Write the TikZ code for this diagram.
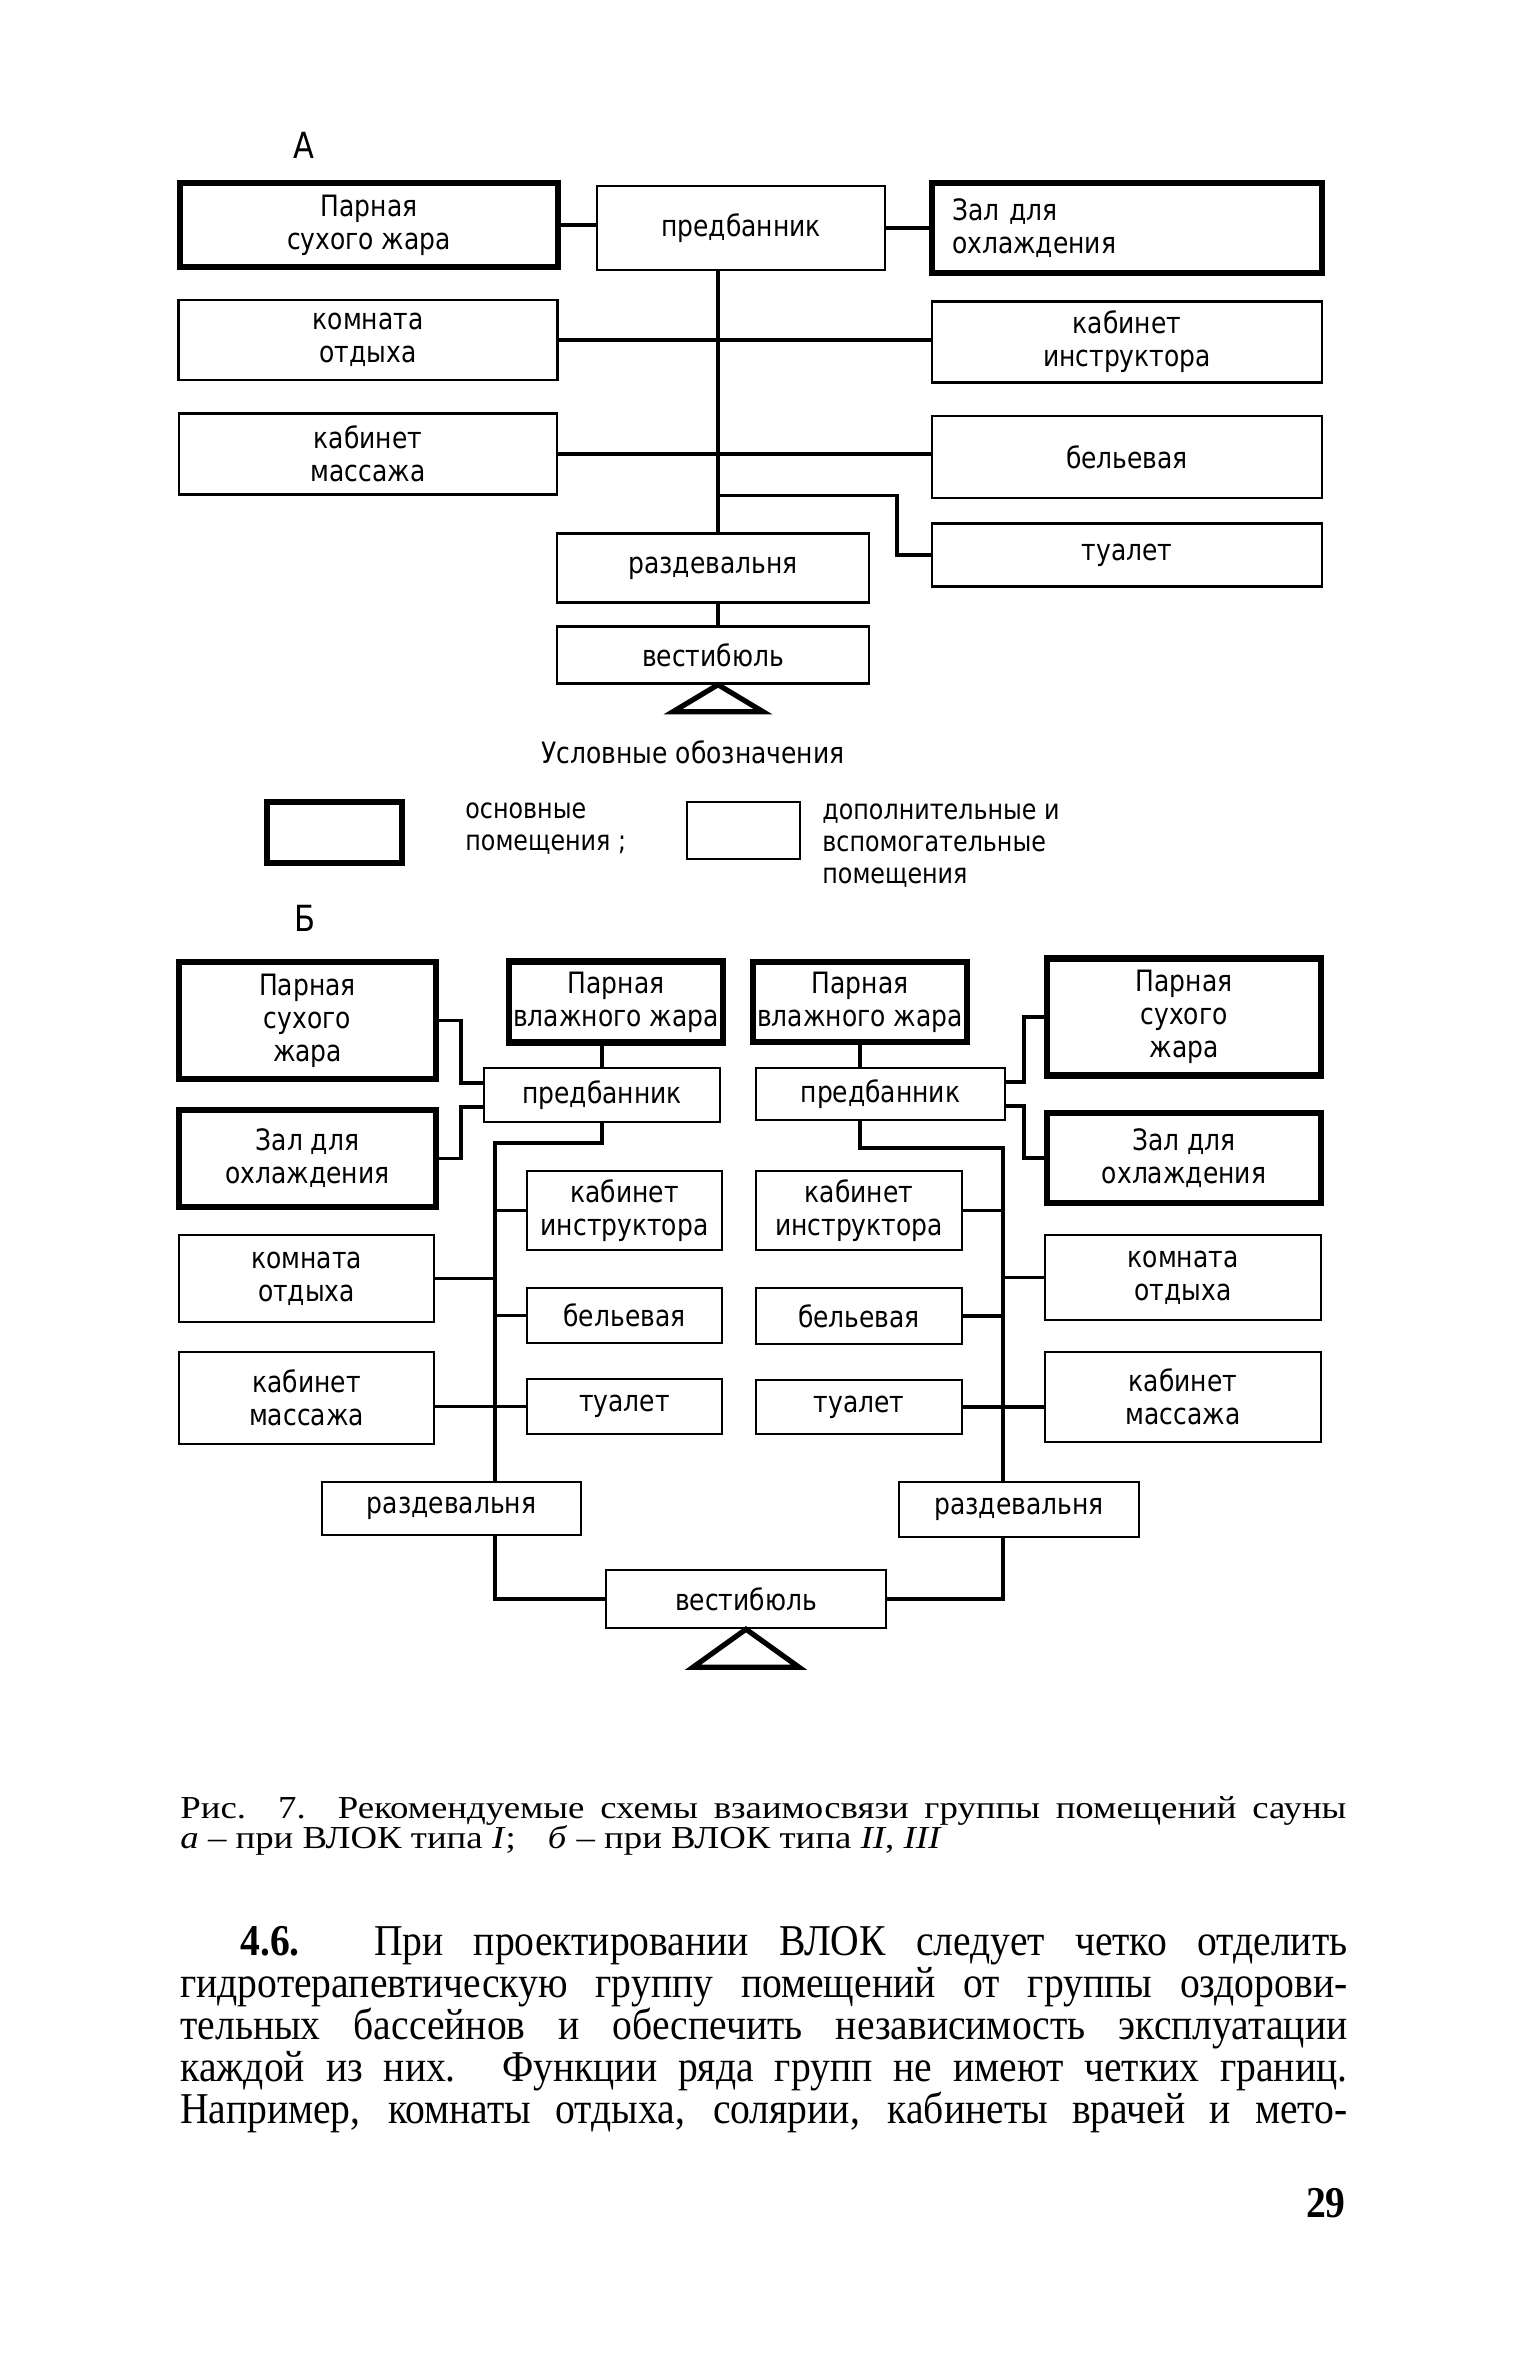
\documentclass[tikz,border=0pt]{standalone}
\usepackage{fontspec}
\setmainfont{Liberation Serif}[FakeStretch=0.9]
\newfontfamily\capfont{Liberation Serif}[FakeStretch=1.15]
\newfontfamily\drawfont{DejaVu Sans}[FakeStretch=0.85]
\usetikzlibrary{calc}

\tikzset{
  wh/.style 2 args={minimum width=#1*0.5pt, minimum height=#2*0.5pt},
  room/.style={draw, line width=1.2pt, inner sep=2pt, align=center,
    font=\drawfont\fontsize{14.7}{16.5}\selectfont},
  mainroom/.style={room, line width=3.2pt},
  link/.style={line width=1.6pt},
  tri/.style={line width=2.6pt, line join=miter},
  lbl/.style={inner sep=0pt, align=left, font=\drawfont\fontsize{14}{16}\selectfont},
  txt/.style={anchor=base west, inner sep=0pt, font=\fontsize{22}{22}\selectfont},
  captxt/.style={txt, font=\capfont\fontsize{16}{15}\selectfont},
}

\begin{document}
\begin{tikzpicture}[x=0.5pt,y=-0.5pt]
  \useasboundingbox (0,0) rectangle (1536,2363);
  \fill[white] (0,0) rectangle (1536,2363);

  % scheme A
  \node[lbl, font=\drawfont\fontsize{18}{18}\selectfont] (labA) at (304,145) {А};
  \node[mainroom, wh={378}{84}] (psA) at (369,225) {Парная\\сухого жара};
  \node[room, wh={288}{84}] (predA) at (741,228) {предбанник};
  \node[mainroom, wh={390}{90}, text width=175pt, align=left] (zalA) at (1127,228) {Зал для\\охлаждения};
  \node[room, wh={379}{80}] (komA) at (368,340) {комната\\отдыха};
  \node[room, wh={390}{81}] (kinA) at (1127,342) {кабинет\\инструктора};
  \node[room, wh={378}{81}] (kmasA) at (368,454) {кабинет\\массажа};
  \node[room, wh={390}{82}] (belA) at (1127,457) {бельевая};
  \node[room, wh={390}{63}] (tuaA) at (1127,555) {туалет};
  \node[room, wh={312}{69}] (razA) at (713,568) {раздевальня};
  \node[room, wh={312}{57}] (vesA) at (713,655) {вестибюль};
  \coordinate (spA) at (718,0);

  \draw[link] (psA.east) -- (psA.east -| predA.west);
  \draw[link] (predA.east) -- (predA.east -| zalA.west);
  \draw[link] (predA.south -| spA) -- (razA.north -| spA);
  \draw[link] (komA.east) -- (komA.east -| kinA.west);
  \draw[link] (kmasA.east) -- (kmasA.east -| belA.west);
  \draw[link] (kmasA.south -| spA) -- ++(179,0) |- (tuaA.west);
  \draw[link] (razA.south -| spA) -- (vesA.north -| spA);
  \draw[tri] (vesA.south -| spA) -- ++(-45,27) -- ++(90,0) -- cycle;

  % legend
  \node[lbl, font=\drawfont\fontsize{14.7}{16}\selectfont] (legend) at (693,752) {Условные обозначения};
  \node[mainroom, wh={135}{61}] (legM) at (334.5,832.5) {};
  \node[lbl, anchor=west] (legMtxt) at (465,829) {основные\\помещения ;};
  \node[room, wh={113}{57}] (legA) at (743.5,830.5) {};
  \node[lbl, anchor=west] (legAtxt) at (822,846) {дополнительные и\\вспомогательные\\помещения};

  % scheme B
  \node[lbl, font=\drawfont\fontsize{18}{18}\selectfont] (labB) at (305,918) {Б};
  \node[mainroom, wh={257}{117}] (psL) at (307.5,1020.5) {Парная\\сухого\\жара};
  \node[mainroom, wh={212}{81}] (pvL) at (616,1002) {Парная\\влажного жара};
  \node[mainroom, wh={212}{80}] (pvR) at (860,1002) {Парная\\влажного жара};
  \node[mainroom, wh={274}{117}] (psR) at (1184,1017) {Парная\\сухого\\жара};
  \node[room, wh={236}{54}] (predL) at (602,1095) {предбанник};
  \node[room, wh={249}{52}] (predR) at (880.5,1094) {предбанник};
  \node[mainroom, wh={257}{97}] (zalL) at (307.5,1158.5) {Зал для\\охлаждения};
  \node[mainroom, wh={274}{90}] (zalR) at (1184,1158) {Зал для\\охлаждения};
  \node[room, wh={195}{79}] (kinL) at (624.5,1210.5) {кабинет\\инструктора};
  \node[room, wh={206}{79}] (kinR) at (859,1210.5) {кабинет\\инструктора};
  \node[room, wh={255}{87}] (komL) at (306.5,1278.5) {комната\\отдыха};
  \node[room, wh={276}{85}] (komR) at (1183,1277.5) {комната\\отдыха};
  \node[room, wh={195}{55}] (belL) at (624.5,1315.5) {бельевая};
  \node[room, wh={206}{56}] (belR) at (859,1316) {бельевая};
  \node[room, wh={255}{92}] (kmasL) at (306.5,1398) {кабинет\\массажа};
  \node[room, wh={276}{90}] (kmasR) at (1183,1397) {кабинет\\массажа};
  \node[room, wh={195}{55}] (tuaL) at (624.5,1406.5) {туалет};
  \node[room, wh={206}{54}] (tuaR) at (859,1407) {туалет};
  \node[room, wh={259}{53}] (razL) at (451.5,1508.5) {раздевальня};
  \node[room, wh={240}{55}] (razR) at (1019,1509.5) {раздевальня};
  \node[room, wh={280}{58}] (vesB) at (746,1599) {вестибюль};
  \coordinate (eL) at (461,0);
  \coordinate (eR) at (1024,0);
  \coordinate (sL) at (495,1143);
  \coordinate (sR) at (1003,1148);

  \draw[link] (psL.east) -- (psL.east -| eL) |- ($(predL.west)+(0,-12)$);
  \draw[link] (zalL.east) -- (zalL.east -| eL) |- ($(predL.west)+(0,12)$);
  \draw[link] (psR.west) -- (psR.west -| eR) |- ($(predR.east)+(0,-12)$);
  \draw[link] (zalR.west) -- (zalR.west -| eR) |- ($(predR.east)+(0,12)$);
  \draw[link] (pvL.south -| predL) -- (predL.north);
  \draw[link] (pvR.south) -- (predR.north -| pvR);
  \draw[link] (predL.south) |- (sL) -- (razL.north -| sL);
  \draw[link] (predR.south -| pvR) |- (sR) -- (razR.north -| sR);
  \draw[link] (kinL.west) -- (kinL.west -| sL);
  \draw[link] (komL.east) -- (komL.east -| sL);
  \draw[link] (belL.west) -- (belL.west -| sL);
  \draw[link] (tuaL.west -| kmasL.east) -- (tuaL.west);
  \draw[link] (kinR.east) -- (kinR.east -| sR);
  \draw[link] (komR.west) -- (komR.west -| sR);
  \draw[link] (belR.east) -- (belR.east -| sR);
  \draw[link] (tuaR.east) -- (tuaR.east -| kmasR.west);
  \draw[link] (razL.south -| sL) |- (vesB.west);
  \draw[link] (razR.south -| sR) |- (vesB.east);
  \draw[tri] (vesB.south) -- ++(-53,38) -- ++(106,0) -- cycle;

  % caption and text
  \node[captxt] (cap1) at (180,1818)
    {\makebox[583pt][s]{Рис. 7. Рекомендуемые схемы взаимосвязи группы помещений сауны}};
  \node[captxt] (cap2) at (180,1848)
    {\textit{а} – при ВЛОК типа \textit{I};\quad \textit{б} – при ВЛОК типа \textit{II}, \textit{III}};
  \node[txt] (par1) at (240,1955) {\makebox[553.5pt][s]{\textbf{4.6.} При проектировании ВЛОК следует четко отделить}};
  \node[txt] (par2) at (180,1997) {\makebox[583.5pt][s]{гидротерапевтическую группу помещений от группы оздорови-}};
  \node[txt] (par3) at (180,2039) {\makebox[583.5pt][s]{тельных бассейнов и обеспечить независимость эксплуатации}};
  \node[txt] (par4) at (180,2081) {\makebox[583.5pt][s]{каждой из них. Функции ряда групп не имеют четких границ.}};
  \node[txt] (par5) at (180,2123) {\makebox[583.5pt][s]{Например, комнаты отдыха, солярии, кабинеты врачей и мето-}};
  \node[txt, anchor=base east, font=\bfseries\fontsize{22}{22}\selectfont] (page) at (1346,2217) {29};
\end{tikzpicture}
\end{document}
